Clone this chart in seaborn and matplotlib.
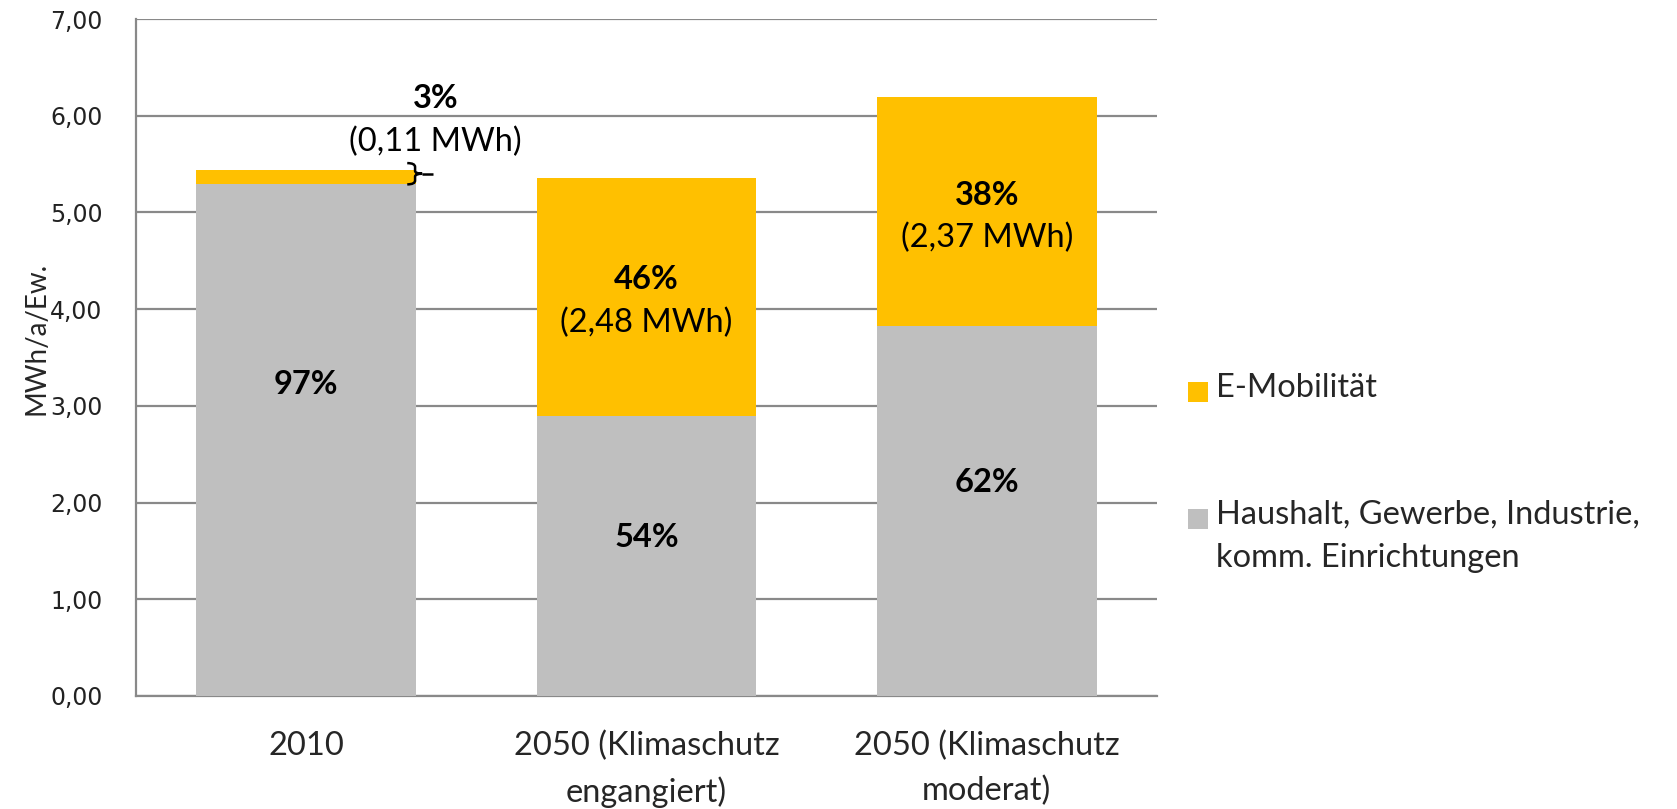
import matplotlib
matplotlib.use("Agg")
import matplotlib.pyplot as plt
import seaborn as sns
import pandas as pd
from matplotlib.patches import Rectangle, PathPatch
from matplotlib.path import Path

categories = ["2010", "2050 (Klimaschutz\nengangiert)", "2050 (Klimaschutz\nmoderat)"]
haushalt = [5.29, 2.89, 3.83]
emob = [0.15, 2.47, 2.36]
haushalt_labels = ["97%", "54%", "62%"]
emob_pct = ["3%", "46%", "38%"]
emob_mwh = ["(0,11 MWh)", "(2,48 MWh)", "(2,37 MWh)"]
yticks = [0, 1, 2, 3, 4, 5, 6, 7]
ytick_labels = ["0,00", "1,00", "2,00", "3,00", "4,00", "5,00", "6,00", "7,00"]
legend_labels = ["E-Mobilität", "Haushalt, Gewerbe, Industrie,\nkomm. Einrichtungen"]

YELLOW = "#FFC000"
GRAY = "#BFBFBF"
GRID = "#898989"
FS = 23.5

sns.set_style("white")
plt.rcParams["font.family"] = ["Lato", "DejaVu Sans"]

df = pd.DataFrame({"cat": categories, "haushalt": haushalt,
                   "total": [h + e for h, e in zip(haushalt, emob)]})

W, H = 1677, 809
fig = plt.figure(figsize=(W / 100, H / 100), dpi=100)
ax = fig.add_axes([136 / W, 1 - 696 / H, (1157 - 136) / W, (696 - 19) / H])

BW = 0.645
sns.barplot(data=df, x="cat", y="total", color=YELLOW, width=BW, ax=ax,
            saturation=1, linewidth=0, zorder=3)
sns.barplot(data=df, x="cat", y="haushalt", color=GRAY, width=BW, ax=ax,
            saturation=1, linewidth=0, zorder=3)

ax.set_ylim(0, 7)
ax.set_xlim(-0.5, 2.5)
ax.set_yticks(yticks)
ax.set_yticklabels(ytick_labels, fontsize=17, family="DejaVu Sans", color="#222222")
ax.tick_params(axis="y", length=0, pad=24)
ax.tick_params(axis="x", length=0, pad=25, labelsize=FS)
for lbl in ax.get_xticklabels():
    lbl.set_linespacing(1.6)
ax.set_xlabel("")
ax.set_ylabel("")
fig.text(37 / W, 1 - 338 / H, "MWh/a/Ew.", rotation=90, ha="center", va="center",
         fontsize=20, family="Lato")
ax.set_axisbelow(True)
ax.yaxis.grid(True, color=GRID, linewidth=1.6, zorder=0)
for s in ["top", "right"]:
    ax.spines[s].set_visible(False)
for s in ["left", "bottom"]:
    ax.spines[s].set_color(GRID)
    ax.spines[s].set_linewidth(1.6)

# labels in bars
hl_offsets = [-2.07, -1.25, -1.62]
for i, h in enumerate(haushalt):
    ax.text(i, h + hl_offsets[i], haushalt_labels[i], ha="center", va="center",
            fontsize=FS, fontweight="bold", color="black", zorder=5)

pct_y = [6.18, 4.31, 5.17]
mwh_y = [5.73, 3.86, 4.74]
for i in range(3):
    xc = i + (0.38 if i == 0 else 0)
    ax.text(xc, pct_y[i], emob_pct[i], ha="center", va="center",
            fontsize=FS, fontweight="bold", color="black", zorder=5)
    ax.text(xc, mwh_y[i], emob_mwh[i], ha="center", va="center",
            fontsize=FS, color="black", zorder=5)

# curly brace next to the small E-Mobilitaet segment
y0 = haushalt[0]
y1 = haushalt[0] + emob[0] + 0.07
ym = (y0 + y1) / 2
xa, xb, xt, xe = 0.297, 0.32, 0.341, 0.374
verts = [(xa, y1), (xb, y1), (xb, y1 - 0.04),
         (xb, ym + 0.03), (xb, ym), (xt, ym),
         (xb, ym), (xb, ym - 0.03),
         (xb, y0 + 0.04), (xb, y0), (xa, y0)]
codes = [Path.MOVETO, Path.CURVE3, Path.CURVE3,
         Path.LINETO, Path.CURVE3, Path.CURVE3,
         Path.CURVE3, Path.CURVE3,
         Path.LINETO, Path.CURVE3, Path.CURVE3]
ax.add_patch(PathPatch(Path(verts, codes), fill=False, edgecolor="black", lw=1.8,
                       zorder=5, clip_on=False))
ax.plot([xt, xe], [ym, ym], color="black", lw=1.8, zorder=5, solid_capstyle="butt")

# legend (drawn manually so the square aligns with the first text line)
sq = 20
leg_x = 1188
leg_rows = [392, 519]
for (yc, lab, col) in zip(leg_rows, legend_labels, [YELLOW, GRAY]):
    fig.add_artist(Rectangle((leg_x / W, 1 - (yc + sq / 2) / H), sq / W, sq / H,
                             transform=fig.transFigure, facecolor=col, edgecolor="none"))
    fig.text(1216 / W, 1 - (yc - 19) / H, lab, ha="left", va="top", fontsize=FS,
             linespacing=1.55)

fig.savefig("out.png", dpi=100)
